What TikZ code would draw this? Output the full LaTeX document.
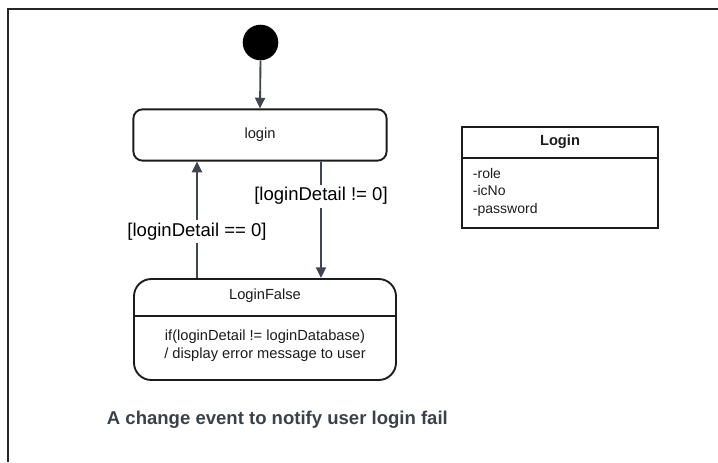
\documentclass[tikz,border=0pt]{standalone}
\usepackage{fontspec}
\setmainfont{Liberation Sans}
\usetikzlibrary{arrows.meta}
\definecolor{wire}{HTML}{3F4650}
\definecolor{ink}{HTML}{1C1C1C}
\definecolor{caption}{HTML}{3A4149}
\tikzset{
  statebox/.style={draw=ink, line width=1.4pt, rectangle, fill=white},
  arr/.style={draw=wire, line width=1.4pt, -{Triangle[length=8pt,width=7.5pt]}},
  guard/.style={fill=white, inner sep=2pt, font=\fontsize{13.9}{16}\selectfont, text=black},
  txt/.style={inner sep=0pt, font=\fontsize{11}{13.2}\selectfont, text=ink},
}
\begin{document}
\begin{tikzpicture}[x=0.75pt, y=-0.75pt]
\useasboundingbox (0,0) rectangle (718,462);

% outer frame
\draw[line width=1.6pt, draw=black!85] (8,462) -- (8,9) -- (718,9);

% initial pseudo-state
\node[circle, fill=black, minimum size=26.7pt, inner sep=0pt] (init) at (260.5,42.5) {};

% state: login
\node[statebox, rounded corners=7pt, minimum width=190pt, minimum height=38.5pt] (login) at (260,135) {};
\node[txt] (logintxt) at (login.center) {login};

% state: LoginFalse with internal activity
\node[statebox, rounded corners=13pt, minimum width=196.5pt, minimum height=75.75pt] (lf) at (265,329.5) {};
\draw[draw=ink, line width=1.4pt] (lf.west |- 0,316) -- (lf.east |- 0,316);
\node[txt] (lftitle) at (265,296) {LoginFalse};
\node[txt, align=center] (lfbody) at (265,345.5) {if(loginDetail != loginDatabase)\\/ display error message to user};

% transitions
\draw[arr] (init.south) -- (login.north);
\draw[arr] (lf.north -| 197,0) -- (login.south -| 197,0)
  node[guard, pos=0.398] (gfalse) {[loginDetail == 0]};
\draw[arr] (login.south -| 321,0) -- (lf.north -| 321,0)
  node[guard, pos=0.297] (gtrue) {[loginDetail != 0]};

% class box: Login
\node[statebox, minimum width=147pt, minimum height=76.2pt] (cls) at (560,177.5) {};
\draw[draw=ink, line width=1.4pt] (cls.west |- 0,158.3) -- (cls.east |- 0,158.3);
\node[txt, font=\fontsize{11}{13.2}\bfseries] (clsname) at (560,142) {Login};
\node[txt, anchor=west, align=left, font=\fontsize{10.5}{13.3}\selectfont] (clsattr) at (472.7,192.2) {-role\\-icNo\\-password};

% caption
\node[anchor=west, inner sep=0pt, text=caption, font=\fontsize{13.9}{16}\bfseries] (cap) at (106.7,420) {A change event to notify user login fail};
\end{tikzpicture}
\end{document}
